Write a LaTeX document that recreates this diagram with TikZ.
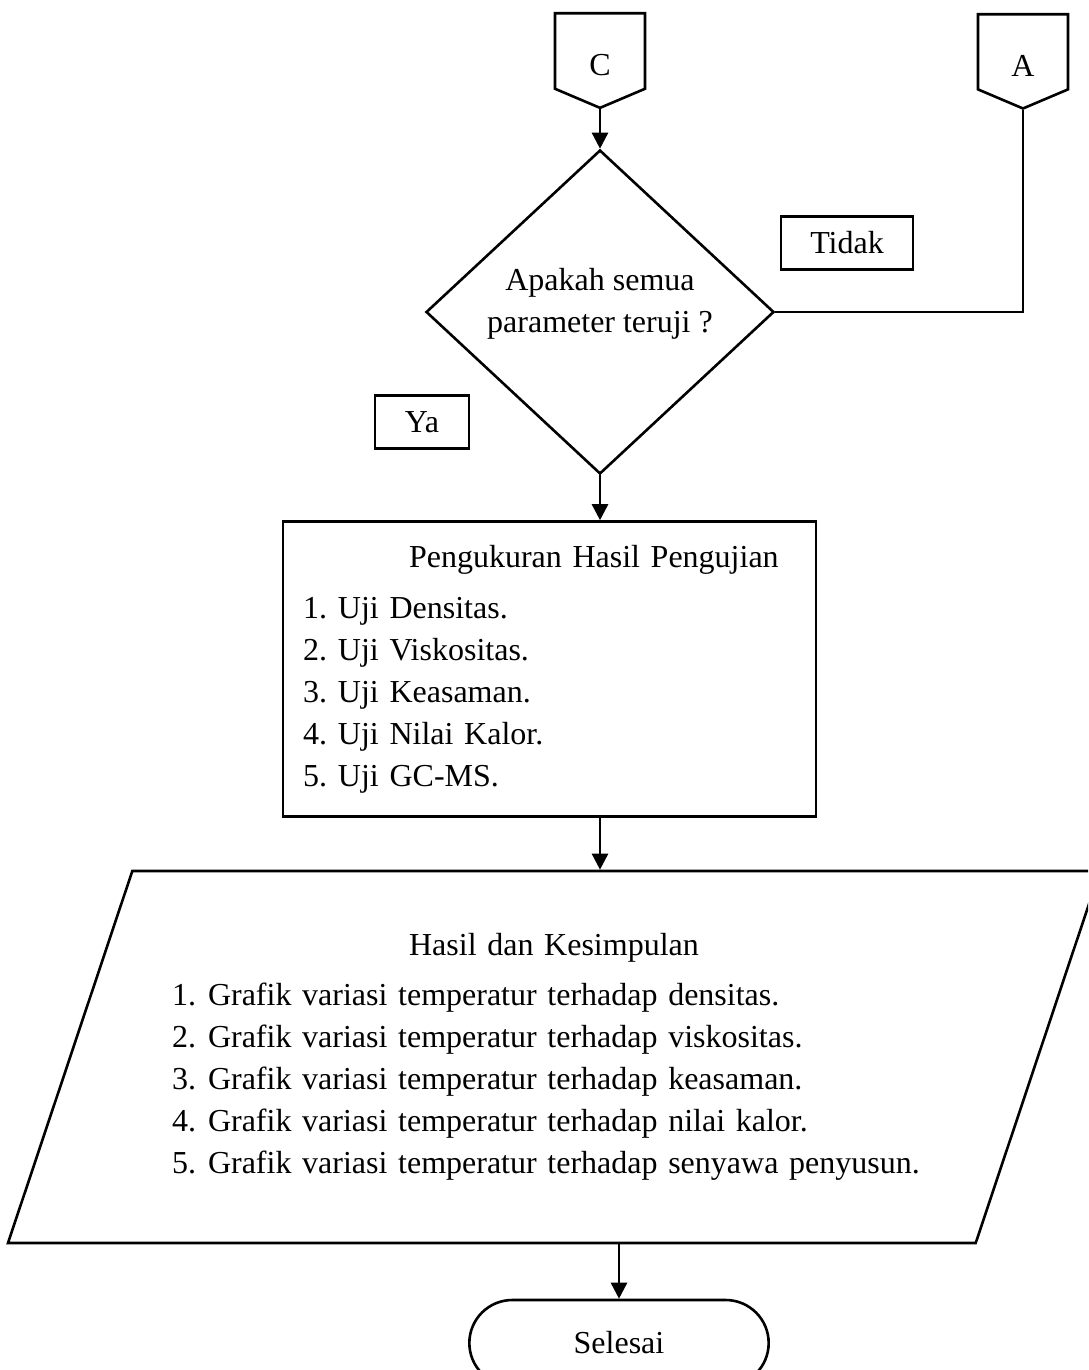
\documentclass[tikz,border=0pt]{standalone}
\usepackage{fontspec}
\setmainfont{Liberation Serif}
\usetikzlibrary{arrows.meta}
\usetikzlibrary{shapes.geometric,shapes.symbols,shapes.misc}

\begin{document}
\begin{tikzpicture}[x=1pt,y=-1pt,line width=2.6pt,font=\fontsize{32}{42}\selectfont]
\tikzstyle{offpage}=[signal,signal to=south,signal pointer angle=134,draw,
minimum width=90pt,minimum height=80pt,inner sep=0pt]
\tikzstyle{keputusan}=[diamond,draw,aspect=1.07,inner sep=0pt,align=center,
minimum width=348pt,minimum height=324pt]
\tikzstyle{ket}=[rectangle,draw,minimum width=132pt,minimum height=53pt]
\tikzstyle{proses}=[rectangle,draw,minimum width=533pt,minimum height=295pt,
inner xsep=20pt,text width=493pt,align=left]
\tikzstyle{datahasil}=[trapezium,trapezium left angle=63.9,trapezium right angle=116.1,
trapezium stretches body=true,draw,minimum width=1092pt,minimum height=372pt,
text width=764pt,align=left]
\tikzstyle{terminal}=[rounded rectangle,draw,minimum width=306pt,minimum height=86pt]

\useasboundingbox (0,0) rectangle (1088,1370);
\clip (0,0) rectangle (1088,1370);

\node[offpage,anchor=north] (C) at (600,12) {\rule{0pt}{50pt}C};
\node[offpage,anchor=north] (A) at (1023,13) {\rule{0pt}{50pt}A};
\node[keputusan] (cek) at (600,312) {Apakah semua\\parameter teruji ?\rule[-24pt]{0pt}{24pt}};
\node[ket] (tidak) at (847,243) {Tidak};
\node[ket,minimum width=94pt] (ya) at (422,422) {Ya};

\node[proses] (ukur) at (549.5,669) {\hspace*{106pt}Pengukuran Hasil Pengujian\\[9pt]
\makebox[35pt][l]{1.}Uji Densitas.\\
\makebox[35pt][l]{2.}Uji Viskositas.\\
\makebox[35pt][l]{3.}Uji Keasaman.\\
\makebox[35pt][l]{4.}Uji Nilai Kalor.\\
\makebox[35pt][l]{5.}Uji GC-MS.};

\node[datahasil] (hasil) at (554,1057) {\makebox[764pt][c]{Hasil dan Kesimpulan}\\[8pt]
\makebox[36pt][l]{1.}Grafik variasi temperatur terhadap densitas.\\
\makebox[36pt][l]{2.}Grafik variasi temperatur terhadap viskositas.\\
\makebox[36pt][l]{3.}Grafik variasi temperatur terhadap keasaman.\\
\makebox[36pt][l]{4.}Grafik variasi temperatur terhadap nilai kalor.\\
\makebox[36pt][l]{5.}Grafik variasi temperatur terhadap senyawa penyusun.};

\node[terminal] (selesai) at (619,1343) {Selesai};

\tikzstyle{alur}=[-{Triangle[width=16pt,length=16pt]}]
\draw[alur] (C.south) -- (cek.north);
\draw (A.south) |- (cek.east);
\draw[alur] (cek.south) -- (ukur.north -| cek.south);
\draw[alur] (ukur.south -| cek.south) -- (hasil.north -| cek.south);
\draw[alur] (hasil.south -| selesai.north) -- (selesai.north);

\end{tikzpicture}
\end{document}
